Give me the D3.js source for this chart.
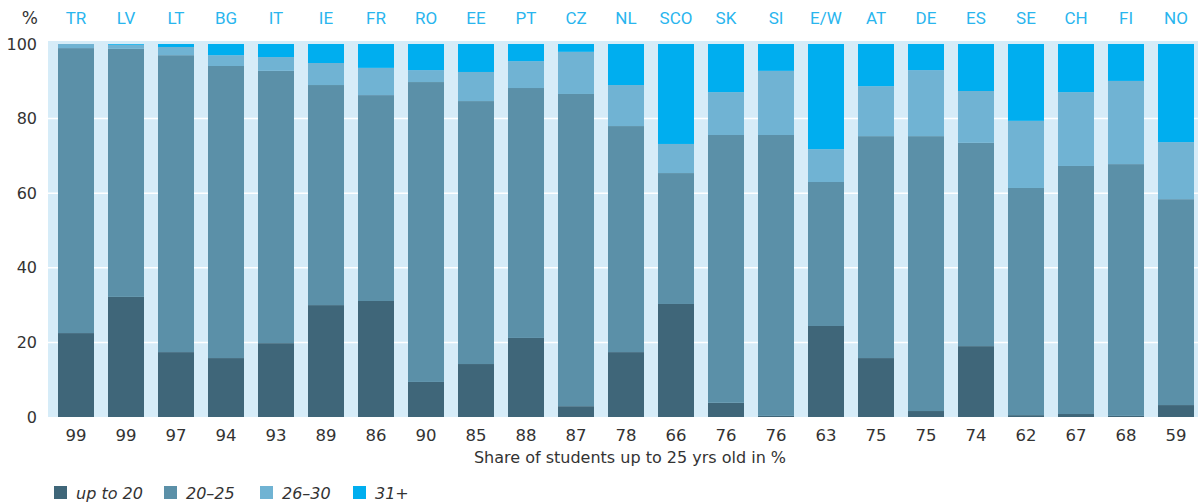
<!DOCTYPE html>
<html>
<meta charset="utf-8">
<style>
body { margin: 0; background: #fff; }
svg { display: block; }
.top-label { font-family: Roboto, "Noto Sans", sans-serif; font-size: 17px; fill: #29b5ee; }
.num { font-family: "DejaVu Sans", sans-serif; font-size: 16px; fill: #333; }
.legend text { font-family: "DejaVu Sans", sans-serif; font-size: 16px; font-style: italic; fill: #333; }
</style>
<body>
<svg id="chart" width="1198" height="504"></svg>
<script src="https://d3js.org/d3.v7.min.js"></script>
<script>
// countries (top) and share of students up to 25 (bottom)
var countries = ["TR","LV","LT","BG","IT","IE","FR","RO","EE","PT","CZ","NL","SCO","SK","SI","E/W","AT","DE","ES","SE","CH","FI","NO"];
var shareUnder25 = [99,99,97,94,93,89,86,90,85,88,87,78,66,76,76,63,75,75,74,62,67,68,59];

// age groups, % of students
var upTo20 = [22.5,32.2,17.4,15.8,19.8,30.0,31.1,9.4,14.2,21.2,2.9,17.4,30.3,3.8,0.3,24.4,15.8,1.6,19.0,0.5,0.8,0.3,3.2];
var age20to25 = [76.4,66.5,79.6,78.3,73.0,59.0,55.2,80.4,70.5,67.0,83.7,60.6,35.1,71.8,75.3,38.6,59.5,73.7,54.5,60.9,66.5,67.5,55.2];
var age26to30 = [1.1,1.1,2.2,2.9,3.7,5.9,7.3,3.2,7.8,7.2,11.3,11.0,7.8,11.5,17.2,8.8,13.4,17.7,13.9,18.0,19.8,22.3,15.3];
var age31plus = [0.0,0.2,0.8,3.0,3.5,5.1,6.4,7.0,7.5,4.6,2.1,11.0,26.8,12.9,7.2,28.2,11.3,7.0,12.6,20.6,12.9,9.9,26.3];

var seriesNames = ["up to 20","20\u201325","26\u201330","31+"];
var seriesKeys = ["a","b","c","d"];
var yTicks = [0,20,40,60,80,100];

var colors = ["#3f6679","#5b90a8","#70b3d3","#00aeef"];

var rows = countries.map(function(c, i) {
  return { country: c, share: shareUnder25[i], a: upTo20[i], b: age20to25[i], c: age26to30[i], d: age31plus[i] };
});

var svg = d3.select("#chart");
var plotLeft = 48, plotRight = 1198, plotTop = 44, plotBottom = 417;

var x = d3.scaleBand()
  .domain(countries)
  .range([plotLeft, plotLeft + 50 * 23 + 6])
  .paddingInner(0.28)
  .paddingOuter(0.2);

var y = d3.scaleLinear().domain([0, 100]).range([plotBottom, plotTop]);

// plot background
svg.append("rect")
  .attr("x", plotLeft).attr("y", plotTop - 3)
  .attr("width", plotRight - plotLeft).attr("height", plotBottom - plotTop + 3)
  .attr("fill", "#d6ecf8");

// gridlines
svg.append("g").selectAll("line")
  .data(yTicks.filter(function(t) { return t > 0 && t < 100; }))
  .join("line")
  .attr("x1", plotLeft).attr("x2", plotRight)
  .attr("y1", function(d) { return y(d); }).attr("y2", function(d) { return y(d); })
  .attr("stroke", "#fff").attr("stroke-width", 1.5);

var stack = d3.stack().keys(seriesKeys)(rows);

svg.append("g").selectAll("g")
  .data(stack)
  .join("g")
  .attr("fill", function(d, i) { return colors[i]; })
  .selectAll("rect")
  .data(function(d) { return d; })
  .join("rect")
  .attr("x", function(d) { return x(d.data.country); })
  .attr("width", x.bandwidth())
  .attr("y", function(d) { return y(d[1]); })
  .attr("height", function(d) { return y(d[0]) - y(d[1]); });

// y axis labels
svg.append("g").selectAll("text")
  .data(yTicks)
  .join("text")
  .attr("class", "num")
  .attr("x", 37)
  .attr("y", function(d) { return y(d); })
  .attr("dy", "0.35em")
  .attr("text-anchor", "end")
  .text(function(d) { return d; });

svg.append("text")
  .attr("class", "num")
  .attr("x", 38).attr("y", 24)
  .attr("text-anchor", "end")
  .style("font-size", "17px")
  .text("%");

// country labels on top
svg.append("g").selectAll("text")
  .data(countries)
  .join("text")
  .attr("class", "top-label")
  .attr("x", function(d) { return x(d) + x.bandwidth() / 2; })
  .attr("y", 24)
  .attr("text-anchor", "middle")
  .text(function(d) { return d; });

// share numbers below bars
svg.append("g").selectAll("text")
  .data(rows)
  .join("text")
  .attr("class", "num")
  .attr("x", function(d) { return x(d.country) + x.bandwidth() / 2; })
  .attr("y", 441)
  .attr("text-anchor", "middle")
  .style("font-size", "16.5px")
  .text(function(d) { return d.share; });

svg.append("text")
  .attr("class", "num")
  .attr("x", 630).attr("y", 463)
  .attr("text-anchor", "middle")
  .text("Share of students up to 25 yrs old in %");

// legend
var legendX = [54, 164, 260, 353];
var legend = svg.append("g").attr("class", "legend")
  .selectAll("g")
  .data(seriesNames)
  .join("g")
  .attr("transform", function(d, i) { return "translate(" + legendX[i] + ",486)"; });

legend.append("rect")
  .attr("width", 13).attr("height", 13)
  .attr("fill", function(d, i) { return colors[i]; });

legend.append("text")
  .attr("x", 22).attr("y", 13)
  .text(function(d) { return d; });
</script>
</body>
</html>
